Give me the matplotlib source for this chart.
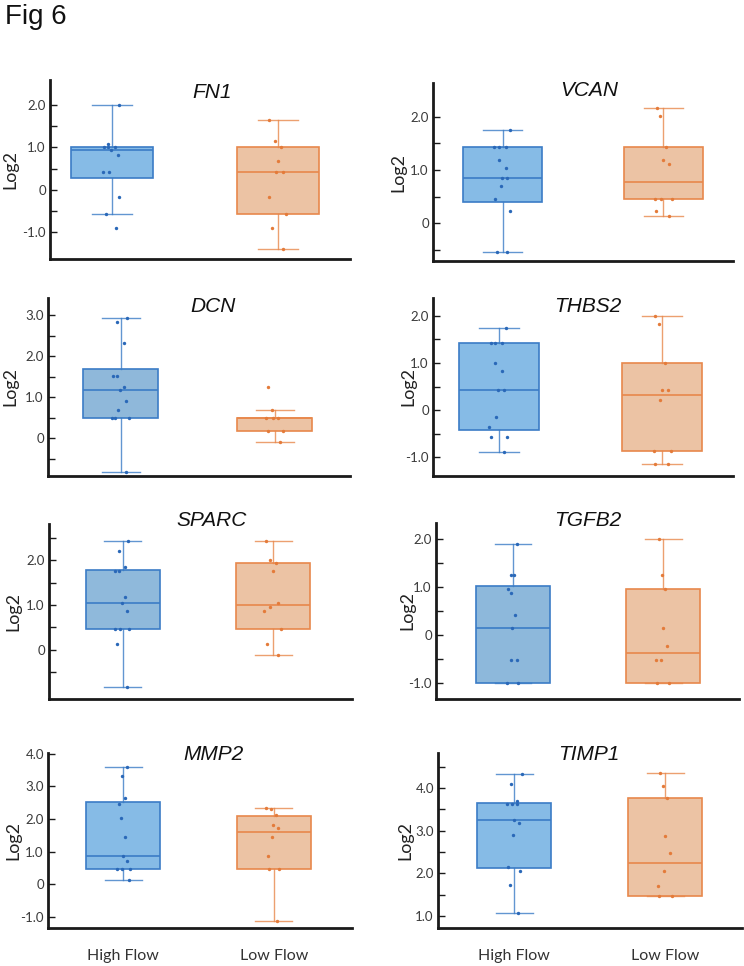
import matplotlib
matplotlib.use('Agg')
import matplotlib.pyplot as plt
import numpy as np
from matplotlib.ticker import FixedLocator, FuncFormatter

plt.rcParams['font.family'] = ['Lato', 'DejaVu Sans']

# ---- data (Log2 values) ----
genes = ['FN1', 'VCAN', 'DCN', 'THBS2', 'SPARC', 'TGFB2', 'MMP2', 'TIMP1']
groups = ['High Flow', 'Low Flow']

# box stats: whislo, q1, med, q3, whishi
fn1_box_high = [-0.57, 0.28, 0.94, 1.0, 2.0]
fn1_box_low = [-1.39, -0.58, 0.42, 1.0, 1.64]
fn1_high = [2.0, 1.09, 1.0, 1.0, 1.0, 0.94, 0.83, 0.43, 0.43, -0.16, -0.57, -0.90]
fn1_high_dx = [0.040, -0.026, -0.050, -0.026, 0.020, -0.004, 0.034, -0.054, -0.016, 0.044, -0.036, 0.026]
fn1_low = [1.64, 1.16, 1.0, 0.69, 0.42, 0.42, -0.16, -0.58, -0.89, -1.39]
fn1_low_dx = [-0.054, -0.020, 0.020, 0.0, -0.014, 0.032, -0.054, 0.050, -0.038, 0.032]

vcan_box_high = [-0.55, 0.39, 0.85, 1.43, 1.75]
vcan_box_low = [0.125, 0.445, 0.78, 1.43, 2.17]
vcan_high = [1.75, 1.43, 1.43, 1.43, 1.18, 1.03, 0.85, 0.85, 0.70, 0.445, 0.23, -0.55, -0.55]
vcan_high_dx = [0.044, -0.050, -0.021, 0.019, -0.023, 0.019, -0.002, 0.031, -0.012, -0.048, 0.044, -0.033, 0.027]
vcan_low = [2.17, 2.02, 1.43, 1.18, 1.12, 0.445, 0.445, 0.445, 0.23, 0.125]
vcan_low_dx = [-0.037, -0.019, 0.017, -0.004, 0.033, -0.054, -0.017, 0.056, -0.048, 0.035]

dcn_box_high = [-0.83, 0.50, 1.18, 1.70, 2.94]
dcn_box_low = [-0.09, 0.18, 0.50, 0.50, 0.70]
dcn_high = [2.94, 2.84, 2.32, 1.51, 1.51, 1.24, 1.18, 0.92, 0.69, 0.50, 0.50, 0.50, -0.83]
dcn_high_dx = [0.039, -0.024, 0.019, -0.050, -0.022, 0.022, -0.004, 0.032, -0.017, -0.054, -0.037, 0.052, 0.032]
dcn_low = [1.24, 0.70, 0.50, 0.50, 0.50, 0.18, 0.18, -0.09]
dcn_low_dx = [-0.041, -0.019, -0.056, -0.013, 0.024, -0.041, 0.056, 0.035]

thbs2_box_high = [-0.88, -0.415, 0.43, 1.425, 1.74]
thbs2_box_low = [-1.15, -0.875, 0.32, 1.0, 2.0]
thbs2_high = [1.74, 1.425, 1.425, 1.425, 1.01, 0.84, 0.43, 0.43, -0.15, -0.37, -0.57, -0.57, -0.88]
thbs2_high_dx = [0.045, -0.049, -0.022, 0.018, -0.022, 0.018, -0.004, 0.035, -0.016, -0.057, -0.045, 0.049, 0.033]
thbs2_low = [2.0, 1.835, 1.0, 0.43, 0.43, 0.205, -0.875, -0.875, -1.15, -1.15]
thbs2_low_dx = [-0.047, -0.018, 0.018, -0.004, 0.033, -0.016, -0.053, 0.053, -0.047, 0.033]

sparc_box_high = [-0.84, 0.46, 1.04, 1.78, 2.43]
sparc_box_low = [-0.11, 0.46, 0.99, 1.93, 2.43]
sparc_high = [2.43, 2.21, 1.85, 1.75, 1.75, 1.19, 1.04, 0.87, 0.47, 0.47, 0.47, 0.14, -0.84]
sparc_high_dx = [0.038, -0.024, 0.015, -0.051, -0.024, 0.018, -0.004, 0.031, -0.051, -0.018, 0.044, -0.038, 0.027]
sparc_low = [2.43, 2.01, 1.93, 1.76, 1.04, 0.96, 0.87, 0.46, 0.14, -0.11]
sparc_low_dx = [-0.051, -0.024, 0.015, -0.004, 0.033, -0.020, -0.060, 0.049, -0.044, 0.033]

tgfb2_box_high = [-0.99, -0.99, 0.14, 1.02, 1.90]
tgfb2_box_low = [-0.99, -0.99, -0.38, 0.95, 2.0]
tgfb2_high = [1.90, 1.245, 1.245, 0.95, 0.88, 0.42, 0.14, -0.52, -0.52, -0.99, -0.99]
tgfb2_high_dx = [0.024, -0.013, 0.009, -0.033, -0.016, 0.011, -0.004, -0.013, 0.027, -0.038, 0.035]
tgfb2_low = [2.0, 1.245, 0.95, 0.14, -0.22, -0.52, -0.52, -0.99, -0.99]
tgfb2_low_dx = [-0.031, -0.011, 0.011, -0.002, 0.024, -0.049, -0.013, -0.042, 0.038]

mmp2_box_high = [0.14, 0.47, 0.88, 2.51, 3.59]
mmp2_box_low = [-1.12, 0.47, 1.59, 2.10, 2.35]
mmp2_high = [3.59, 3.31, 2.63, 2.47, 2.04, 1.46, 0.88, 0.72, 0.47, 0.47, 0.47, 0.14]
mmp2_high_dx = [0.024, -0.011, 0.009, -0.029, -0.016, 0.013, -0.004, 0.024, -0.044, -0.011, 0.047, 0.038]
mmp2_low = [2.35, 2.31, 2.12, 1.80, 1.72, 1.46, 0.88, 0.47, 0.47, -1.12]
mmp2_low_dx = [-0.053, -0.020, 0.018, -0.002, 0.027, -0.011, -0.038, -0.029, 0.033, 0.020]

timp1_box_high = [1.06, 2.125, 3.26, 3.64, 4.33]
timp1_box_low = [1.47, 1.47, 2.25, 3.77, 4.34]
timp1_high = [4.33, 4.09, 3.70, 3.625, 3.625, 3.625, 3.26, 3.19, 2.91, 2.16, 2.05, 1.73, 1.06]
timp1_high_dx = [0.049, -0.020, 0.020, -0.046, -0.015, 0.020, 0.0, 0.031, -0.011, -0.040, 0.038, -0.029, 0.024]
timp1_low = [4.34, 4.04, 3.77, 2.875, 2.47, 2.05, 1.695, 1.47, 1.47]
timp1_low_dx = [-0.033, -0.013, 0.015, 0.0, 0.031, -0.011, -0.046, -0.040, 0.044]

box_high = [fn1_box_high, vcan_box_high, dcn_box_high, thbs2_box_high,
            sparc_box_high, tgfb2_box_high, mmp2_box_high, timp1_box_high]
box_low = [fn1_box_low, vcan_box_low, dcn_box_low, thbs2_box_low,
           sparc_box_low, tgfb2_box_low, mmp2_box_low, timp1_box_low]
pts_high = [(fn1_high, fn1_high_dx), (vcan_high, vcan_high_dx), (dcn_high, dcn_high_dx),
            (thbs2_high, thbs2_high_dx), (sparc_high, sparc_high_dx), (tgfb2_high, tgfb2_high_dx),
            (mmp2_high, mmp2_high_dx), (timp1_high, timp1_high_dx)]
pts_low = [(fn1_low, fn1_low_dx), (vcan_low, vcan_low_dx), (dcn_low, dcn_low_dx),
           (thbs2_low, thbs2_low_dx), (sparc_low, sparc_low_dx), (tgfb2_low, tgfb2_low_dx),
           (mmp2_low, mmp2_low_dx), (timp1_low, timp1_low_dx)]

# ---- layout (pixels in the 744x966 image) ----
W, H = 744, 966
# left, top, right, bottom of each panel
rects = [(50, 80, 350, 259), (433, 83, 733, 261),
         (48, 298, 350, 476), (433, 298, 733, 476),
         (49, 524, 352, 699), (436, 523, 739, 699),
         (48, 753, 352, 928), (438, 753, 742, 928)]
ylims = [(-1.63, 2.59), (-0.715, 2.64), (-0.917, 3.42), (-1.40, 2.38),
         (-1.10, 2.81), (-1.33, 2.33), (-1.34, 4.02), (0.72, 4.82)]
centers = [(112, 278), (502.5, 663.3), (120.7, 274.7), (498.7, 662.3),
           (122.7, 273.3), (513, 663.3), (123.3, 273.7), (514.3, 665.2)]
major = [[-1, 0, 1, 2], [0, 1, 2], [0, 1, 2, 3], [-1, 0, 1, 2],
         [0, 1, 2], [-1, 0, 1, 2], [-1, 0, 1, 2, 3, 4], [1, 2, 3, 4]]
minor = [[-0.5, 0.5, 1.5], [-0.5, 0.5, 1.5], [-0.5, 0.5, 1.5, 2.5], [-0.5, 0.5, 1.5],
         [-0.5, 0.5, 1.5, 2.5], [-0.5, 0.5, 1.5], [], [1.5, 2.5, 3.5, 4.5]]
title_xy = [(212, 92), (589, 91), (213, 306), (588, 307),
            (212, 520), (588, 520), (213, 754), (589, 754)]
# distance from the left spine to the right side of the rotated "Log2"
ylab_off = [32, 27, 30, 17, 28, 21, 27, 25]

blue_face = ['#86bbe6', '#86bbe6', '#8fb8da', '#86bbe6', '#8fb9db', '#8db8db', '#86bbe6', '#86bbe6']
blue_edge = '#3b7cc6'
blue_pt = '#2a68b8'
org_face = '#ecc3a4'
org_edge = '#e8884c'
org_pt = '#e47b3a'

fig = plt.figure(figsize=(W / 100, H / 100), dpi=100)
fig.patch.set_facecolor('white')

fig.text(5 / W, 1 - 4 / H, 'Fig 6', family='Liberation Sans', fontsize=20,
         ha='left', va='top', color='#111111')

fmt = FuncFormatter(lambda v, p: '0' if abs(v) < 1e-9 else '%.1f' % v)

for i, g in enumerate(genes):
    L, T, R, B = rects[i]
    ax = fig.add_axes([L / W, 1 - B / H, (R - L) / W, (B - T) / H])
    c0, c1 = centers[i]
    s = c1 - c0
    ax.set_xlim(-(c0 - L) / s, (R - c0) / s)
    ax.set_ylim(*ylims[i])

    stats = []
    for st in (box_high[i], box_low[i]):
        stats.append(dict(whislo=st[0], q1=st[1], med=st[2], q3=st[3], whishi=st[4], fliers=[]))
    bp = ax.bxp(stats, positions=[0, 1], widths=0.49, patch_artist=True,
                showfliers=False, manage_ticks=False)
    faces = [blue_face[i], org_face]
    edges = [blue_edge, org_edge]
    for k in range(2):
        bp['boxes'][k].set_facecolor(faces[k])
        bp['boxes'][k].set_edgecolor(edges[k])
        bp['boxes'][k].set_linewidth(1.2)
        bp['medians'][k].set_color(edges[k])
        bp['medians'][k].set_linewidth(1.2)
        for ln in bp['whiskers'][2 * k:2 * k + 2] + bp['caps'][2 * k:2 * k + 2]:
            ln.set_color(edges[k])
            ln.set_alpha(0.8)
            ln.set_linewidth(1.0)

    hv, hdx = pts_high[i]
    lv, ldx = pts_low[i]
    ax.scatter(np.array(hdx) + 0, hv, s=6, color=blue_pt, linewidths=0, zorder=4)
    ax.scatter(np.array(ldx) + 1, lv, s=6, color=org_pt, linewidths=0, zorder=4)

    for side in ('top', 'right'):
        ax.spines[side].set_visible(False)
    for side in ('left', 'bottom'):
        ax.spines[side].set_linewidth(2.0)
        ax.spines[side].set_color('#1a1a1a')

    ax.yaxis.set_major_locator(FixedLocator(major[i]))
    ax.yaxis.set_minor_locator(FixedLocator(minor[i]))
    ax.yaxis.set_major_formatter(fmt)
    ax.tick_params(axis='y', which='both', direction='in', length=5, width=1,
                   color='#1a1a1a', pad=3, labelsize=9.5, labelcolor='#3a3a3a')

    if i >= 6:
        ax.set_xticks([0, 1])
        ax.set_xticklabels(groups, fontsize=11.5, color='#333333')
        ax.tick_params(axis='x', length=0, pad=15)
    else:
        ax.set_xticks([])

    ax.set_ylabel('Log2', fontsize=13, color='#222222')
    ax.yaxis.set_label_coords(-ylab_off[i] / (R - L), 0.5)

    tx, ty = title_xy[i]
    fig.text(tx / W, 1 - ty / H, g, family='Liberation Sans', style='italic',
             fontsize=15, ha='center', va='center', color='#111111')

fig.savefig('out.png', dpi=100, facecolor='white')
